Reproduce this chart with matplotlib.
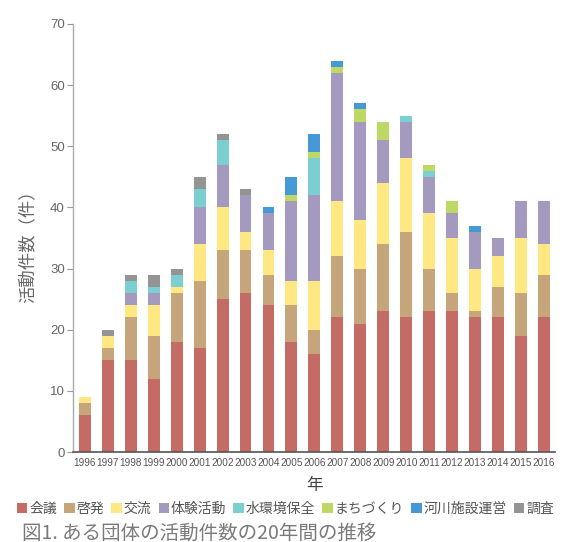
import numpy as np
import matplotlib
matplotlib.use("Agg")
import matplotlib.pyplot as plt

plt.rcParams['font.family'] = ['Noto Sans CJK JP', 'DejaVu Sans']

years = [str(y) for y in range(1996, 2017)]
categories = ['会議', '啓発', '交流', '体験活動', '水環境保全', 'まちづくり', '河川施設運営', '調査']
colors = ['#C36B64', '#C6A57B', '#FFE882', '#A499BF', '#7BCFD1', '#BED963', '#4599D6', '#949494']

kaigi    = [6, 15, 15, 12, 18, 17, 25, 26, 24, 18, 16, 22, 21, 23, 22, 23, 23, 22, 22, 19, 22]
keihatsu = [2, 2, 7, 7, 8, 11, 8, 7, 5, 6, 4, 10, 9, 11, 14, 7, 3, 1, 5, 7, 7]
koryu    = [1, 2, 2, 5, 1, 6, 7, 3, 4, 4, 8, 9, 8, 10, 12, 9, 9, 7, 5, 9, 5]
taiken   = [0, 0, 2, 2, 0, 6, 7, 6, 6, 13, 14, 21, 16, 7, 6, 6, 4, 6, 3, 6, 7]
mizu     = [0, 0, 2, 1, 2, 3, 4, 0, 0, 0, 6, 0, 0, 0, 1, 1, 0, 0, 0, 0, 0]
machi    = [0, 0, 0, 0, 0, 0, 0, 0, 0, 1, 1, 1, 2, 3, 0, 1, 2, 0, 0, 0, 0]
kasen    = [0, 0, 0, 0, 0, 0, 0, 0, 1, 3, 3, 1, 1, 0, 0, 0, 0, 1, 0, 0, 0]
chosa    = [0, 1, 1, 2, 1, 2, 1, 1, 0, 0, 0, 0, 0, 0, 0, 0, 0, 0, 0, 0, 0]
series = [kaigi, keihatsu, koryu, taiken, mizu, machi, kasen, chosa]

fig = plt.figure(figsize=(5.71, 5.42), dpi=100)
ax = fig.add_axes([0.128, 0.166, 0.844, 0.79])

x = np.arange(len(years))
bottom = np.zeros(len(years))
for name, vals, c in zip(categories, series, colors):
    ax.bar(x, vals, width=0.52, bottom=bottom, color=c, label=name, linewidth=0)
    bottom += np.array(vals)

ax.set_xlim(-0.51, 20.48)
ax.set_ylim(0, 70)
ax.set_yticks(range(0, 71, 10))
ax.set_xticks(x)
ax.set_xticklabels(years, family=['Liberation Sans Narrow', 'Liberation Sans'],
                   fontsize=7.2, color='#555555')
for lab in ax.get_yticklabels():
    lab.set_family(['Liberation Sans'])
ax.tick_params(axis='x', length=0, pad=4)
ax.tick_params(axis='y', length=4, width=0.8, color='#999999', labelcolor='#666666',
               labelsize=9.5, pad=2)

for s in ['top', 'right']:
    ax.spines[s].set_visible(False)
ax.spines['left'].set_color('#AAAAAA')
ax.spines['left'].set_linewidth(1.0)
ax.spines['bottom'].set_color('#555555')
ax.spines['bottom'].set_linewidth(1.2)

ax.set_ylabel('活動件数（件）', fontsize=12.5, color='#666666')
ax.yaxis.set_label_coords(-0.076, 0.49)
ax.set_xlabel('年', fontsize=12, color='#444444', labelpad=7)

handles, labels = ax.get_legend_handles_labels()
fig.legend(handles, labels, loc='center', bbox_to_anchor=(0.5, 1 - 509 / 542), ncol=8,
           frameon=False, fontsize=10, handlelength=0.75, handleheight=0.75,
           handletextpad=0.15, columnspacing=0.5, labelcolor='#555555')

fig.text(22 / 571, 1 - 533 / 542, '図1. ある団体の活動件数の20年間の推移',
         fontsize=14, color='#7A7A7A', va='center', ha='left')

fig.savefig('out.png', dpi=100)
